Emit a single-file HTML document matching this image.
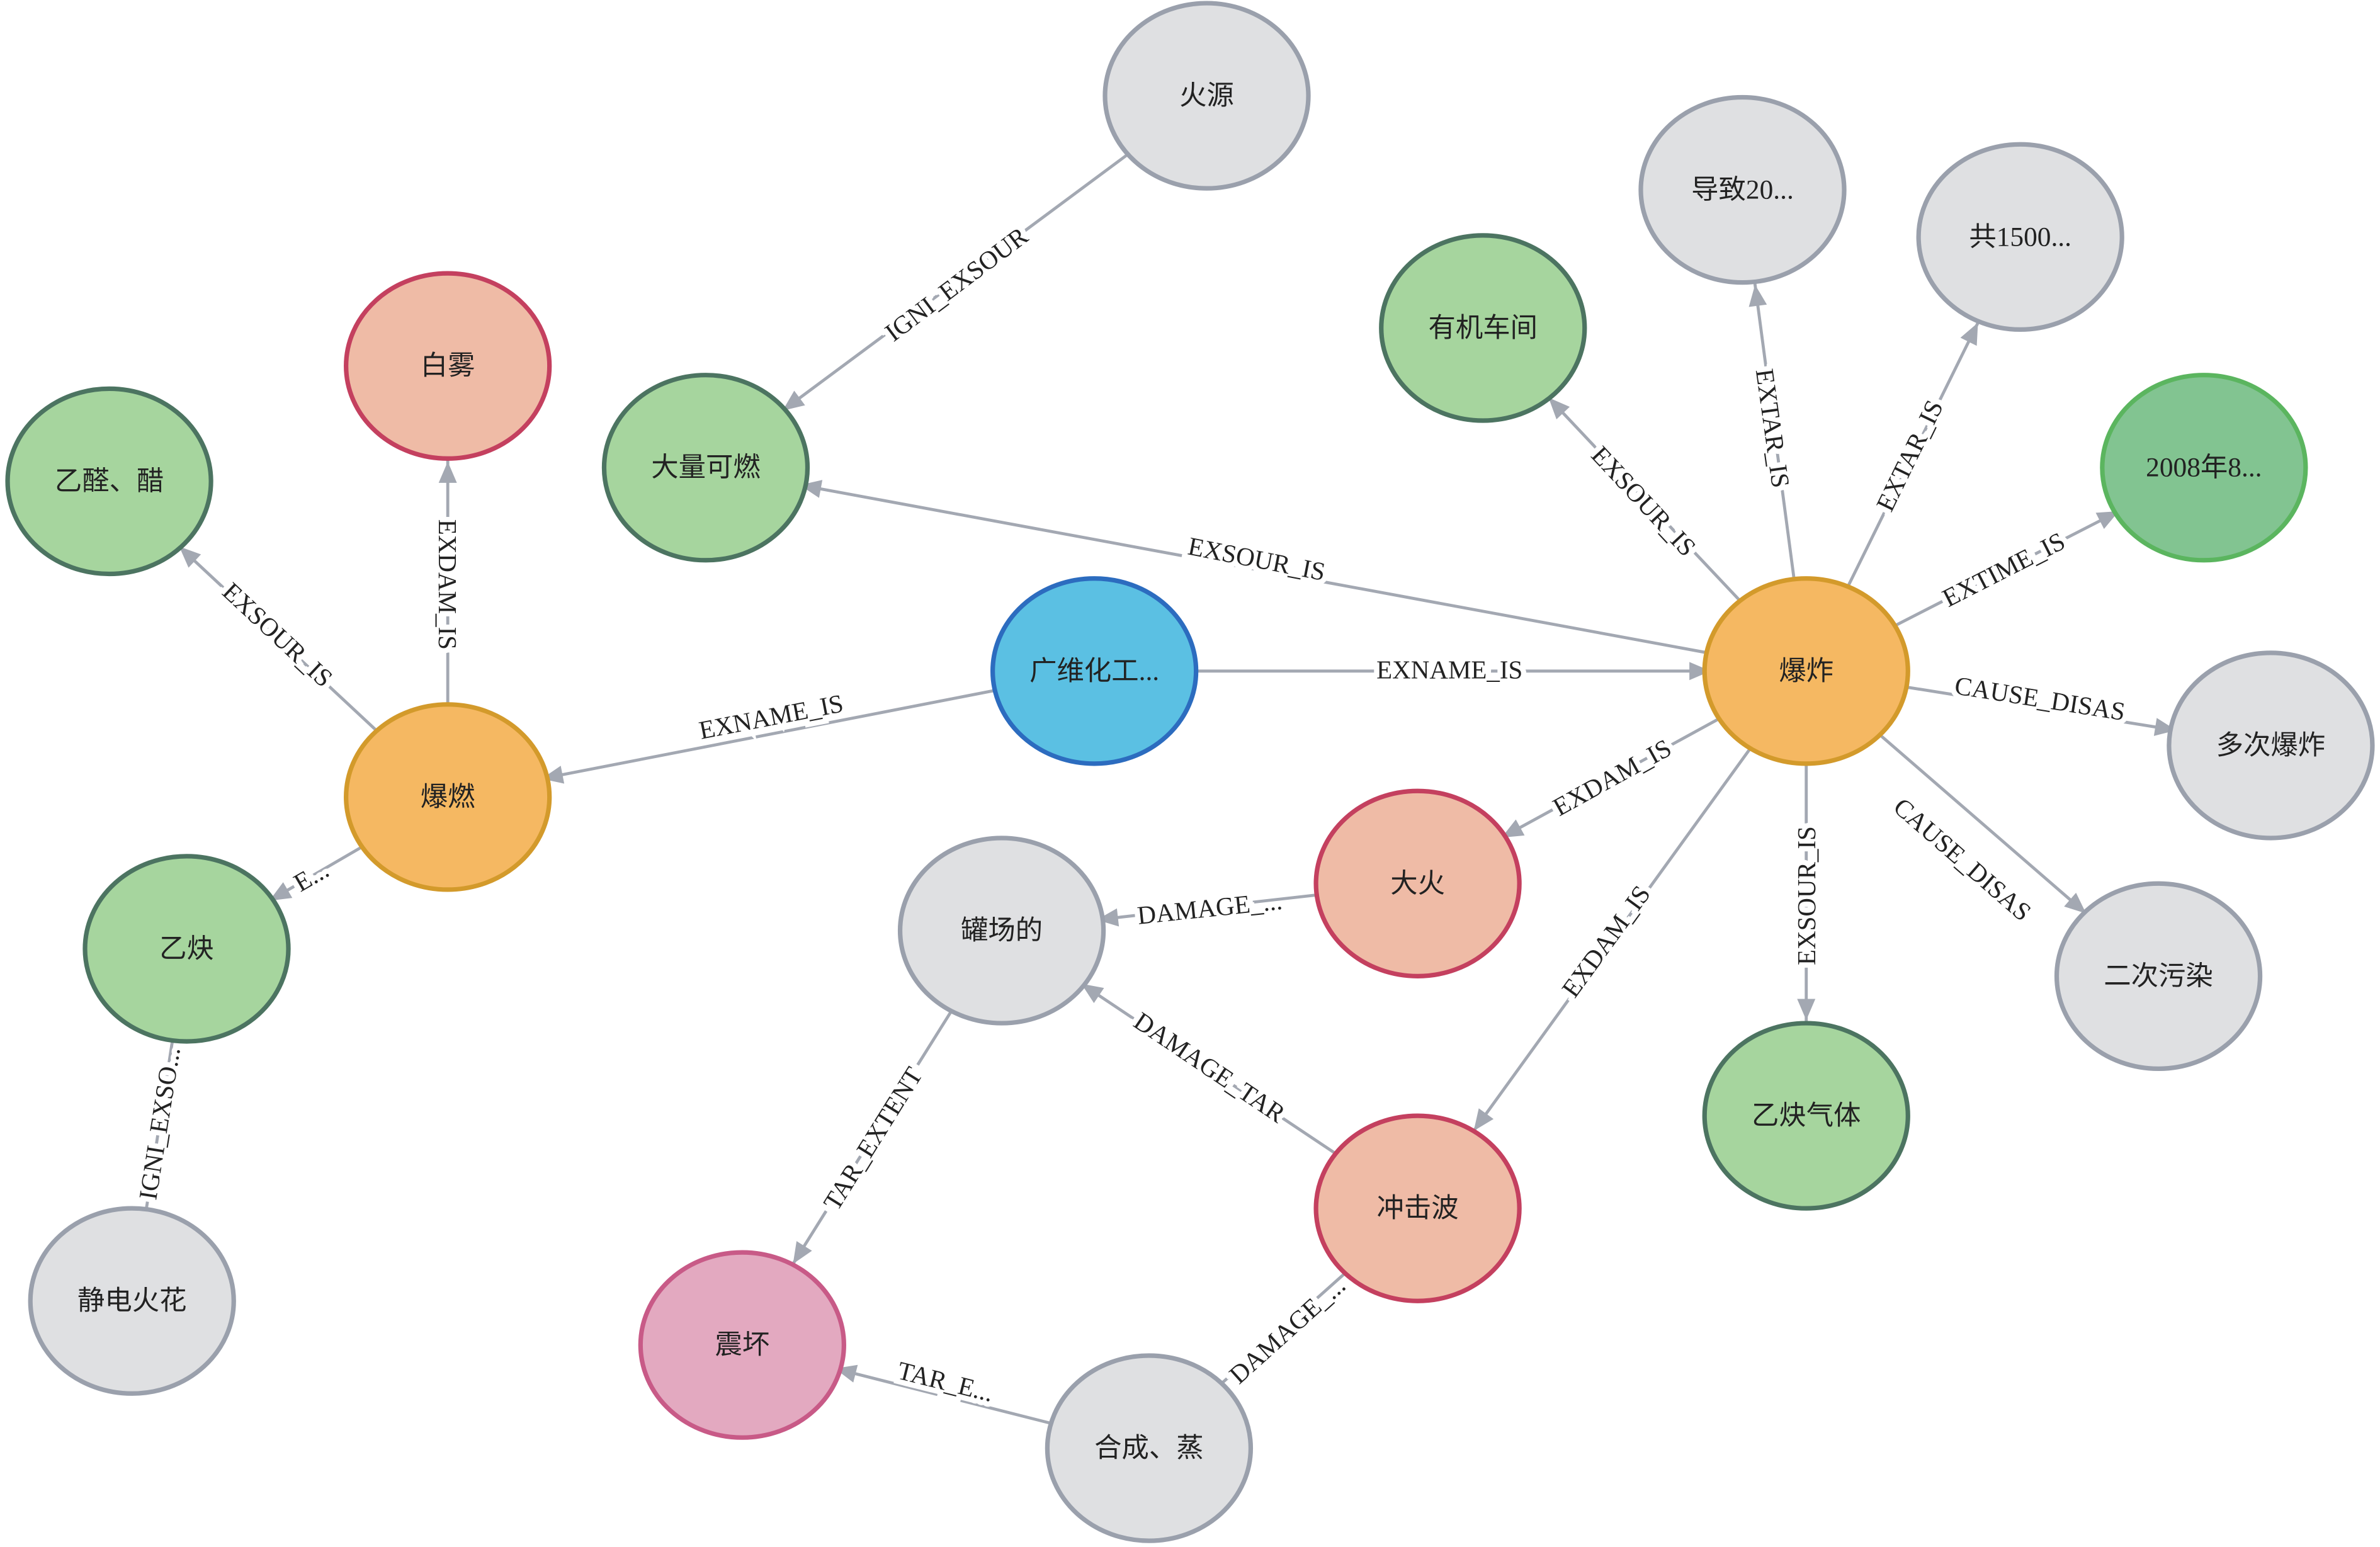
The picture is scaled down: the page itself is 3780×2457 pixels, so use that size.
<!DOCTYPE html>
<html><head><meta charset="utf-8"><style>
html,body{margin:0;padding:0;background:#fff;}
svg{display:block;}
.e{stroke:#a3a8b2;stroke-width:2;fill:none;}
.l{font-family:"Liberation Serif","Noto Serif CJK SC",serif;font-size:17px;fill:#222;stroke:#fff;stroke-width:7;paint-order:stroke;text-anchor:middle;dominant-baseline:central;}
.n{font-family:"Liberation Serif","Noto Sans CJK SC",serif;font-size:18px;fill:#222;text-anchor:middle;dominant-baseline:central;}
.g{fill:#dfe0e2;stroke:#9aa0ac;stroke-width:3;}
.gr{fill:#a6d59e;stroke:#4c7461;stroke-width:3;}
.dg{fill:#82c491;stroke:#5bb55f;stroke-width:3;}
.s{fill:#efbba6;stroke:#c4405f;stroke-width:3;}
.o{fill:#f5b862;stroke:#d39a2b;stroke-width:3;}
.b{fill:#5bc0e3;stroke:#2c6cbf;stroke-width:3;}
.p{fill:#e3a9c0;stroke:#c85a87;stroke-width:3;}
</style></head><body>
<svg width="3780" height="2457" viewBox="0 0 1568 1019" xmlns="http://www.w3.org/2000/svg">
<defs>
<marker id="a" markerUnits="userSpaceOnUse" markerWidth="200" markerHeight="200" refX="77" refY="6" orient="auto" overflow="visible">
<path d="M0,0 L14,6 L0,12 Z" fill="#a3a8b2"/>
</marker>
</defs>
<line class="e" x1="795" y1="63" x2="465" y2="308" marker-end="url(#a)"/>
<line class="e" x1="1190" y1="442" x2="977" y2="216" marker-end="url(#a)"/>
<line class="e" x1="1190" y1="442" x2="1148" y2="125" marker-end="url(#a)"/>
<line class="e" x1="1190" y1="442" x2="1331" y2="156" marker-end="url(#a)"/>
<line class="e" x1="1190" y1="442" x2="1452" y2="308" marker-end="url(#a)"/>
<line class="e" x1="1190" y1="442" x2="465" y2="308" marker-end="url(#a)"/>
<line class="e" x1="721" y1="442" x2="1190" y2="442" marker-end="url(#a)"/>
<line class="e" x1="721" y1="442" x2="295" y2="525" marker-end="url(#a)"/>
<line class="e" x1="295" y1="525" x2="295" y2="241" marker-end="url(#a)"/>
<line class="e" x1="295" y1="525" x2="72" y2="317" marker-end="url(#a)"/>
<line class="e" x1="295" y1="525" x2="123" y2="625" marker-end="url(#a)"/>
<line class="e" x1="123" y1="625" x2="87" y2="857"/>
<line class="e" x1="1190" y1="442" x2="1496" y2="491" marker-end="url(#a)"/>
<line class="e" x1="1190" y1="442" x2="1422" y2="643" marker-end="url(#a)"/>
<line class="e" x1="1190" y1="442" x2="1190" y2="735" marker-end="url(#a)"/>
<line class="e" x1="1190" y1="442" x2="934" y2="582" marker-end="url(#a)"/>
<line class="e" x1="1190" y1="442" x2="934" y2="796" marker-end="url(#a)"/>
<line class="e" x1="934" y1="582" x2="660" y2="613" marker-end="url(#a)"/>
<line class="e" x1="934" y1="796" x2="660" y2="613" marker-end="url(#a)"/>
<line class="e" x1="660" y1="613" x2="489" y2="886" marker-end="url(#a)"/>
<line class="e" x1="934" y1="796" x2="757" y2="954"/>
<line class="e" x1="757" y1="954" x2="489" y2="886" marker-end="url(#a)"/>
<text class="l" transform="translate(630,187) rotate(-37)">IGNI_EXSOUR</text>
<text class="l" transform="translate(1083,330) rotate(47)">EXSOUR_IS</text>
<text class="l" transform="translate(1168,282) rotate(82)">EXTAR_IS</text>
<text class="l" transform="translate(1258,300) rotate(-64)">EXTAR_IS</text>
<text class="l" transform="translate(1320,375) rotate(-27)">EXTIME_IS</text>
<text class="l" transform="translate(828,368) rotate(11)">EXSOUR_IS</text>
<text class="l" transform="translate(955,441)">EXNAME_IS</text>
<text class="l" transform="translate(508,472) rotate(-11)">EXNAME_IS</text>
<text class="l" transform="translate(295,385) rotate(90)">EXDAM_IS</text>
<text class="l" transform="translate(183,418) rotate(43)">EXSOUR_IS</text>
<text class="l" transform="translate(205,577) rotate(-30)">E...</text>
<text class="l" transform="translate(105,740) rotate(-81)">IGNI_EXSO...</text>
<text class="l" transform="translate(1344,460) rotate(9)">CAUSE_DISAS</text>
<text class="l" transform="translate(1293,566) rotate(41)">CAUSE_DISAS</text>
<text class="l" transform="translate(1190,590) rotate(-90)">EXSOUR_IS</text>
<text class="l" transform="translate(1062,512) rotate(-29)">EXDAM_IS</text>
<text class="l" transform="translate(1058,620) rotate(-54)">EXDAM_IS</text>
<text class="l" transform="translate(797,598) rotate(-6)">DAMAGE_...</text>
<text class="l" transform="translate(797,703) rotate(34)">DAMAGE_TAR</text>
<text class="l" transform="translate(575,750) rotate(-58)">TAR_EXTENT</text>
<text class="l" transform="translate(848,876) rotate(-42)">DAMAGE_...</text>
<text class="l" transform="translate(623,910) rotate(14)">TAR_E...</text>
<g>
<ellipse class="g" cx="795" cy="63" rx="67" ry="61"/><text class="n" x="795" y="63">火源</text>
<ellipse class="g" cx="1148" cy="125" rx="67" ry="61"/><text class="n" x="1148" y="125">导致20...</text>
<ellipse class="g" cx="1331" cy="156" rx="67" ry="61"/><text class="n" x="1331" y="156">共1500...</text>
<ellipse class="gr" cx="977" cy="216" rx="67" ry="61"/><text class="n" x="977" y="216">有机车间</text>
<ellipse class="s" cx="295" cy="241" rx="67" ry="61"/><text class="n" x="295" y="241">白雾</text>
<ellipse class="dg" cx="1452" cy="308" rx="67" ry="61"/><text class="n" x="1452" y="308">2008年8...</text>
<ellipse class="gr" cx="72" cy="317" rx="67" ry="61"/><text class="n" x="72" y="317">乙醛、醋</text>
<ellipse class="gr" cx="465" cy="308" rx="67" ry="61"/><text class="n" x="465" y="308">大量可燃</text>
<ellipse class="b" cx="721" cy="442" rx="67" ry="61"/><text class="n" x="721" y="442">广维化工...</text>
<ellipse class="o" cx="1190" cy="442" rx="67" ry="61"/><text class="n" x="1190" y="442">爆炸</text>
<ellipse class="g" cx="1496" cy="491" rx="67" ry="61"/><text class="n" x="1496" y="491">多次爆炸</text>
<ellipse class="o" cx="295" cy="525" rx="67" ry="61"/><text class="n" x="295" y="525">爆燃</text>
<ellipse class="s" cx="934" cy="582" rx="67" ry="61"/><text class="n" x="934" y="582">大火</text>
<ellipse class="g" cx="660" cy="613" rx="67" ry="61"/><text class="n" x="660" y="613">罐场的</text>
<ellipse class="gr" cx="123" cy="625" rx="67" ry="61"/><text class="n" x="123" y="625">乙炔</text>
<ellipse class="g" cx="1422" cy="643" rx="67" ry="61"/><text class="n" x="1422" y="643">二次污染</text>
<ellipse class="gr" cx="1190" cy="735" rx="67" ry="61"/><text class="n" x="1190" y="735">乙炔气体</text>
<ellipse class="s" cx="934" cy="796" rx="67" ry="61"/><text class="n" x="934" y="796">冲击波</text>
<ellipse class="g" cx="87" cy="857" rx="67" ry="61"/><text class="n" x="87" y="857">静电火花</text>
<ellipse class="p" cx="489" cy="886" rx="67" ry="61"/><text class="n" x="489" y="886">震坏</text>
<ellipse class="g" cx="757" cy="954" rx="67" ry="61"/><text class="n" x="757" y="954">合成、蒸</text>
</g>
</svg>
</body></html>
